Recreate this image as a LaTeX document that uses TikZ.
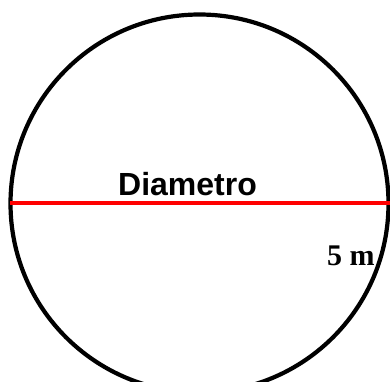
\documentclass[tikz,border=0pt]{standalone}
\usepackage{fontspec}
\newfontfamily\labsans{Liberation Sans}
\newfontfamily\labserif{Liberation Serif}
\begin{document}
\begin{tikzpicture}[x=1pt,y=1pt,
  rim/.style={draw=black,line width=4.2pt},
  diam/.style={draw=red,line width=4.5pt},
  bigtxt/.style={font=\labsans\bfseries\fontsize{32}{36}\selectfont,inner sep=0pt,anchor=base},
  meas/.style={font=\labserif\bfseries\fontsize{30}{34}\selectfont,inner sep=0pt,anchor=base west}]
\useasboundingbox[fill=white] (0,0) rectangle (390,-381);
\begin{scope}
\clip (0,0) rectangle (390,-381);
\node[circle,minimum size=378pt,inner sep=0pt,rim] (c) at (199.5,-203.5) {};
\coordinate (L) at (10,-203);
\coordinate (R) at (390,-203);
\draw[diam] (L) -- (R);
\end{scope}
\node[bigtxt] (d) at (187.5,-195) {Diametro};
\node[meas] (m) at (327,-265) {5 m};
\end{tikzpicture}
\end{document}
